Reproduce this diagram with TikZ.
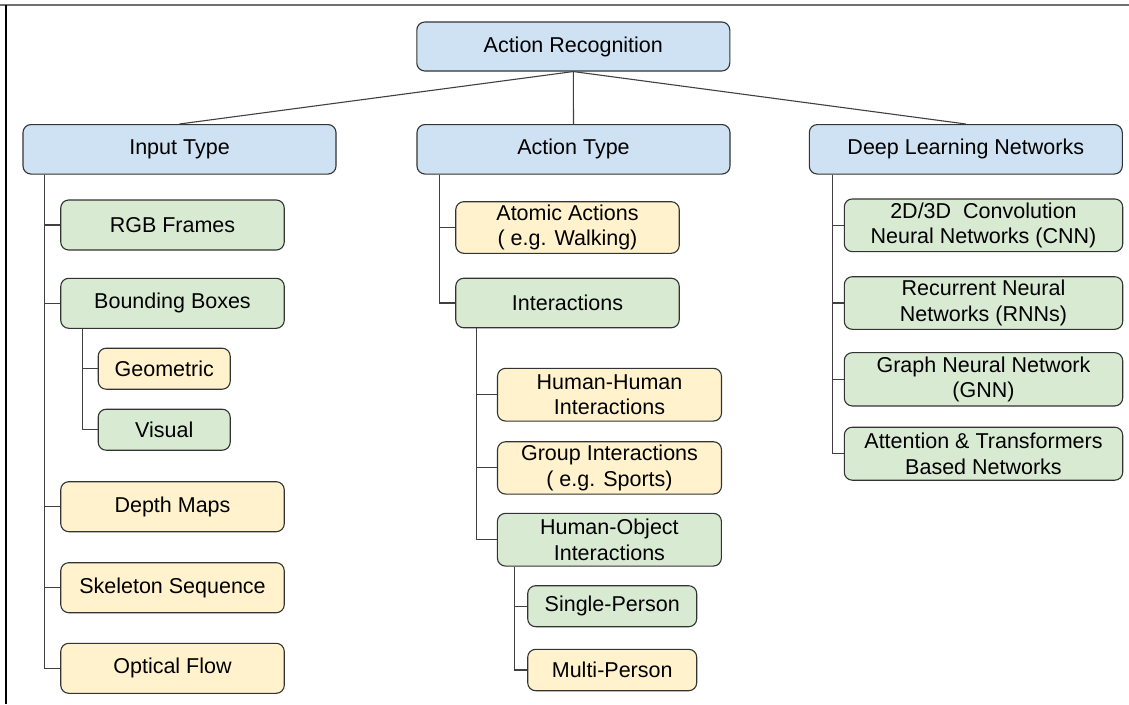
\documentclass[tikz,border=0pt]{standalone}
\usepackage{fontspec}
\setmainfont{Liberation Sans}
\usetikzlibrary{calc}
\definecolor{boxblue}{HTML}{CFE2F3}
\definecolor{boxgreen}{HTML}{D9EAD3}
\definecolor{boxyellow}{HTML}{FFF2CC}
\definecolor{edgegray}{HTML}{333333}
\definecolor{linkgray}{HTML}{404040}
\definecolor{framegray}{HTML}{707070}
\tikzset{
  box/.style={draw=edgegray, line width=1.1pt, rounded corners=8pt, inner sep=0pt,
    align=center, font=\fontsize{21.5}{25.5}\selectfont, text=black},
  big/.style={box, fill=boxblue, minimum width=313pt, minimum height=49.5pt},
  mid/.style={box, minimum width=223.5pt, minimum height=50pt},
  green/.style={fill=boxgreen},
  yellow/.style={fill=boxyellow},
  link/.style={draw=linkgray, line width=1.1pt},
}
\begin{document}
\begin{tikzpicture}[x=1pt, y=-1pt]
\useasboundingbox (0,0) rectangle (1129,704);
% outer frame (top and left edges)
\draw[framegray, line width=2pt] (0,5) -- (1129,5);
\draw[black, line width=1.4pt] (6,5) -- (6,704);

% root and first level
\node[big, minimum height=49pt] (ar) at (573.3,46.5) {Action Recognition};
\node[big] (input)  at (179.5,149.3) {Input Type};
\node[big] (action) at (573.5,149.3) {Action Type};
\node[big] (dln)    at (965.8,149.3) {Deep Learning Networks};

% input types
\node[mid, green]  (rgb)   at (172.5,225)   {RGB Frames};
\node[mid, green]  (bbox)  at (172.5,303.3) {Bounding Boxes};
\node[box, yellow, minimum width=132pt, minimum height=41pt] (geo) at (164.2,368.7) {Geometric};
\node[box, green,  minimum width=132pt, minimum height=41pt] (vis) at (164.2,429.7) {Visual};
\node[mid, yellow] (depth) at (172.5,506.7) {Depth Maps};
\node[mid, yellow] (skel)  at (172.5,587.7) {Skeleton Sequence};
\node[mid, yellow] (flow)  at (172.5,668.3) {Optical Flow};

% action types
\node[mid, yellow, minimum height=51.6pt] (atomic) at (567.5,227.5) {Atomic Actions\\( e.g. Walking)};
\node[mid, green, minimum height=49.5pt]  (inter)  at (567.5,303)   {Interactions};
\node[mid, yellow, minimum width=224pt, minimum height=52.7pt] (hh)    at (609.5,394.7) {Human-Human\\Interactions};
\node[mid, yellow, minimum width=224pt, minimum height=52.3pt] (group) at (609.5,467.9) {Group Interactions\\( e.g. Sports)};
\node[mid, green,  minimum width=224pt, minimum height=52.7pt] (ho)    at (609.4,539.7) {Human-Object\\Interactions};
\node[box, green,  minimum width=169pt, minimum height=41pt] (single) at (612.2,606.2) {Single-Person};
\node[box, yellow, minimum width=169pt, minimum height=41.4pt] (multi) at (612.2,670)  {Multi-Person};

% network families
\node[box, green, minimum width=278.4pt, minimum height=52.7pt] (cnn) at (983.5,225.3) {2D/3D\ \ Convolution\\Neural Networks (CNN)};
\node[box, green, minimum width=278.4pt, minimum height=52.6pt] (rnn) at (983.5,303)   {Recurrent Neural\\Networks (RNNs)};
\node[box, green, minimum width=278.4pt, minimum height=53.3pt] (gnn) at (983.5,379.3) {Graph Neural Network\\(GNN)};
\node[box, green, minimum width=278.4pt, minimum height=53pt]   (att) at (983.5,453.7) {Attention \& Transformers\\Based Networks};

% root links
\draw[link] (ar.south) -- (input.north);
\draw[link] (ar.south) -- (action.north);
\draw[link] (ar.south) -- (dln.north);

% elbow links
\foreach \c in {rgb,bbox,depth,skel,flow}
  \draw[link] ($(input.south west)+(22,0)$) |- (\c.west);
\foreach \c in {geo,vis}
  \draw[link] ($(bbox.south west)+(22,0)$) |- (\c.west);
\foreach \c in {atomic,inter}
  \draw[link] ($(action.south west)+(23,0)$) |- (\c.west);
\foreach \c in {hh,group,ho}
  \draw[link] ($(inter.south west)+(21.5,0)$) |- (\c.west);
\foreach \c in {single,multi}
  \draw[link] ($(ho.south west)+(17.5,0)$) |- (\c.west);
\foreach \c in {cnn,rnn,gnn,att}
  \draw[link] ($(dln.south west)+(23.5,0)$) |- (\c.west);
\end{tikzpicture}
\end{document}
